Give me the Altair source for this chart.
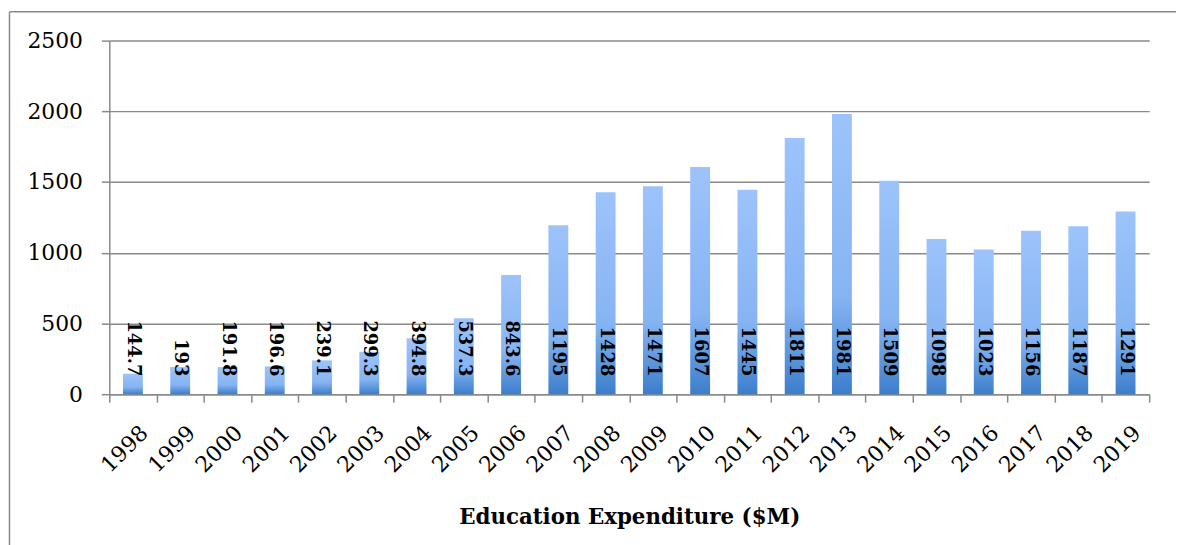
import altair as alt
import pandas as pd

years = [str(y) for y in range(1998, 2020)]
values = [144.7, 193, 191.8, 196.6, 239.1, 299.3, 394.8, 537.3, 843.6, 1195,
          1428, 1471, 1607, 1445, 1811, 1981, 1509, 1098, 1023, 1156, 1187, 1291]
labels = ["144.7", "193", "191.8", "196.6", "239.1", "299.3", "394.8", "537.3",
          "843.6", "1195", "1428", "1471", "1607", "1445", "1811", "1981", "1509",
          "1098", "1023", "1156", "1187", "1291"]
y_ticks = [0, 500, 1000, 1500, 2000, 2500]
title_text = "Education Expenditure ($M)"

df = pd.DataFrame({"year": years, "value": values, "label": labels})

W, H = 1047, 356
SERIF = "DejaVu Serif"
GRAY = "#8a8a8a"

xenc = alt.X("year:N", sort=years,
             scale=alt.Scale(paddingInner=0, paddingOuter=0),
             axis=alt.Axis(title=title_text, labelAngle=-45, labelAlign="right",
                           labelBaseline="top", labelPadding=20, labelOffset=4,
                           labelFont=SERIF, labelFontSize=22, labelColor="black",
                           tickBand="extent", tickSize=8, tickColor=GRAY,
                           tickWidth=1.5, domainColor=GRAY, domainWidth=1.5,
                           titleFont=SERIF, titleFontSize=21.5, titleFontWeight="bold",
                           titleColor="black", titleY=130, titleBaseline="alphabetic",
                           grid=False))
yenc = alt.Y("value:Q",
             scale=alt.Scale(domain=[0, 2500], nice=False),
             axis=alt.Axis(title=None, values=y_ticks, format="d", labelFont=SERIF,
                           labelFontSize=22, labelColor="black", labelPadding=19,
                           tickSize=8, tickColor=GRAY, tickWidth=1.5,
                           domainColor=GRAY, domainWidth=1.5,
                           grid=True, gridColor=GRAY, gridWidth=1.5))

grad = alt.Gradient(gradient="linear",
                    stops=[alt.GradientStop(color="#9DC3FB", offset=0),
                           alt.GradientStop(color="#86B4F3", offset=0.65),
                           alt.GradientStop(color="#3C7ECB", offset=1)],
                    x1=0, x2=0, y1=0, y2=1)

bars = alt.Chart(df).mark_bar(size=20, color=grad).encode(x=xenc, y=yenc)

text = alt.Chart(df).mark_text(angle=90, align="right", baseline="middle",
                               font=SERIF, fontSize=18, fontWeight="bold",
                               color="black").encode(
    x=alt.X("year:N", sort=years), y=alt.value(H - 18), text="label:N")

frame_df = pd.DataFrame({"k": [0]})
left_line = alt.Chart(frame_df).mark_rule(color=GRAY, strokeWidth=1.5).encode(
    x=alt.value(-100.5), y=alt.value(-29), y2=alt.value(H + 160))
top_line = alt.Chart(frame_df).mark_rule(color=GRAY, strokeWidth=1.5).encode(
    x=alt.value(-100.5), x2=alt.value(W + 40), y=alt.value(-29))

chart = alt.layer(bars, text, left_line, top_line).properties(
    width=W, height=H,
    autosize=alt.AutoSizeParams(type="none"),
    padding={"left": 102, "top": 31, "right": 27, "bottom": 150},
).configure_view(stroke=None)

chart.save("out.html", embed_options={"renderer": "svg", "actions": False})
